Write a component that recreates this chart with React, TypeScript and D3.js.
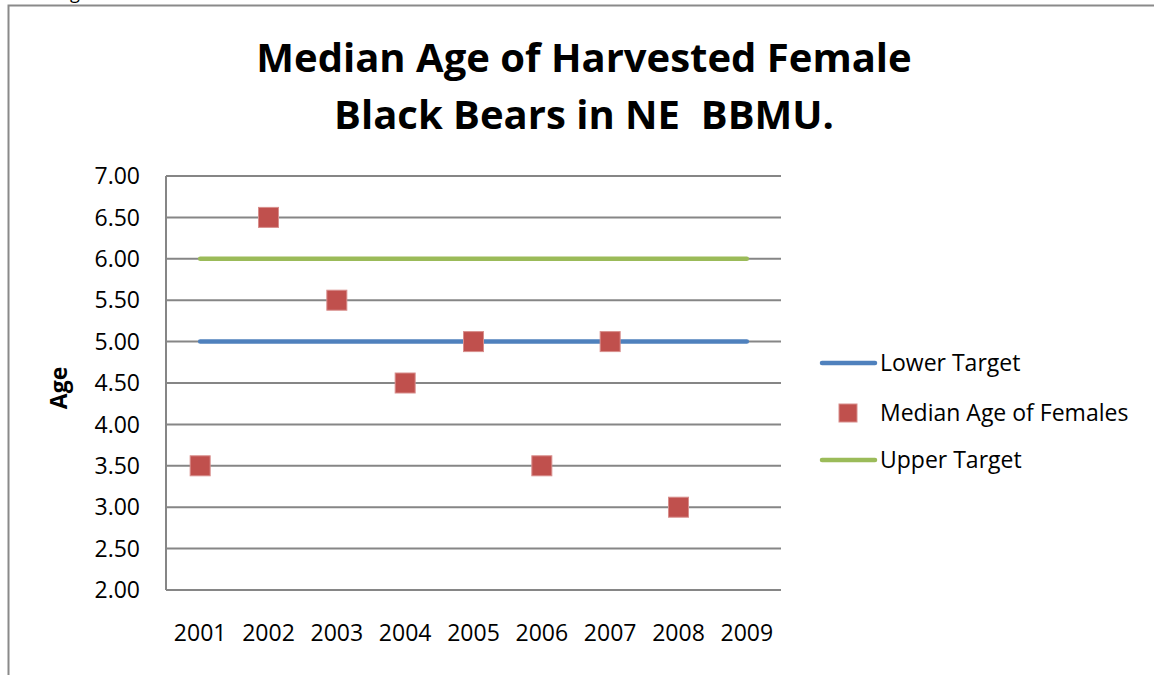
import React from "react";
import * as d3 from "d3";

// chart data
const years = ["2001", "2002", "2003", "2004", "2005", "2006", "2007", "2008", "2009"];
const medianAge = [3.5, 6.5, 5.5, 4.5, 5.0, 3.5, 5.0, 3.0, null];
const lowerTarget = [5, 5, 5, 5, 5, 5, 5, 5, 5];
const upperTarget = [6, 6, 6, 6, 6, 6, 6, 6, 6];
const yTicks = [2, 2.5, 3, 3.5, 4, 4.5, 5, 5.5, 6, 6.5, 7];

const FONT = "'Open Sans', 'Liberation Sans', sans-serif";
const BLUE = "#4F81BD";
const RED = "#C0504D";
const GREEN = "#9BBB59";
const GRID = "#868686";

const App = () => {
  const width = 1154, height = 675;
  const plot = { left: 166, right: 781, top: 176, bottom: 590 };

  const x = d3.scaleBand<string>().domain(years).range([plot.left, plot.right]).padding(0);
  const y = d3.scaleLinear().domain([2, 7]).range([plot.bottom, plot.top]);
  const cx = (d: string) => (x(d) as number) + x.bandwidth() / 2;

  const line = d3
    .line<number>()
    .x((_, i) => cx(years[i]))
    .y(d => y(d));

  const points = years
    .map((yr, i) => ({ yr, v: medianAge[i] }))
    .filter(d => d.v !== null) as { yr: string; v: number }[];

  const marker = 20;

  return (
    <svg
      width={width}
      height={height}
      style={{ position: "fixed", top: 0, left: 0, background: "#fff" }}
      fontFamily={FONT}
    >
      {/* clipped piece of text above the chart */}
      <text x={70} y={-1} fontSize={18} fill="#000">g</text>

      {/* chart frame */}
      <polyline
        points={`8.5,${height} 8.5,5.5 ${width},5.5`}
        fill="none"
        stroke="#8a8a8a"
        strokeWidth={2}
      />

      {/* title */}
      <text x={584} y={72} textAnchor="middle" fontSize={40} fontWeight="bold" fill="#000">
        Median Age of Harvested Female
      </text>
      <text x={584} y={129} textAnchor="middle" fontSize={40} fontWeight="bold" fill="#000" style={{ whiteSpace: "pre" }}>
        {"Black Bears in NE\u00a0 BBMU."}
      </text>

      {/* gridlines */}
      {yTicks.map(t => (
        <line key={t} x1={plot.left} x2={plot.right} y1={y(t)} y2={y(t)} stroke={GRID} strokeWidth={2} />
      ))}
      <line x1={plot.left} x2={plot.left} y1={plot.top} y2={plot.bottom} stroke={GRID} strokeWidth={2} />

      {/* y tick labels */}
      {yTicks.map(t => (
        <text key={t} x={140} y={y(t)} dy="0.36em" textAnchor="end" fontSize={23} fill="#000">
          {t.toFixed(2)}
        </text>
      ))}

      {/* x tick labels */}
      {years.map(yr => (
        <text key={yr} x={cx(yr)} y={641} textAnchor="middle" fontSize={23} fill="#000">
          {yr}
        </text>
      ))}

      {/* y axis title */}
      <text
        transform={`translate(67,${(plot.top + plot.bottom) / 2 + 5}) rotate(-90)`}
        textAnchor="middle"
        fontSize={23}
        fontWeight="bold"
        fill="#000"
      >
        Age
      </text>

      {/* target lines */}
      <path d={line(upperTarget) as string} fill="none" stroke={GREEN} strokeWidth={4.5} strokeLinecap="round" />
      <path d={line(lowerTarget) as string} fill="none" stroke={BLUE} strokeWidth={4.5} strokeLinecap="round" />

      {/* median markers */}
      {points.map(d => (
        <rect
          key={d.yr}
          x={cx(d.yr) - marker / 2}
          y={y(d.v) - marker / 2}
          width={marker}
          height={marker}
          fill={RED}
          stroke="#D88E8C"
          strokeWidth={1}
        />
      ))}

      {/* legend */}
      <g fontSize={23} fill="#000">
        <line x1={822} x2={875} y1={363} y2={363} stroke={BLUE} strokeWidth={4.5} strokeLinecap="round" />
        <text x={880} y={363} dy="0.36em">Lower Target</text>
        <rect x={839} y={404} width={18} height={18} fill={RED} stroke="#D88E8C" strokeWidth={1} />
        <text x={880} y={413} dy="0.36em">Median Age of Females</text>
        <line x1={822} x2={875} y1={460} y2={460} stroke={GREEN} strokeWidth={4.5} strokeLinecap="round" />
        <text x={880} y={460} dy="0.36em">Upper Target</text>
      </g>
    </svg>
  );
};

export default App;
